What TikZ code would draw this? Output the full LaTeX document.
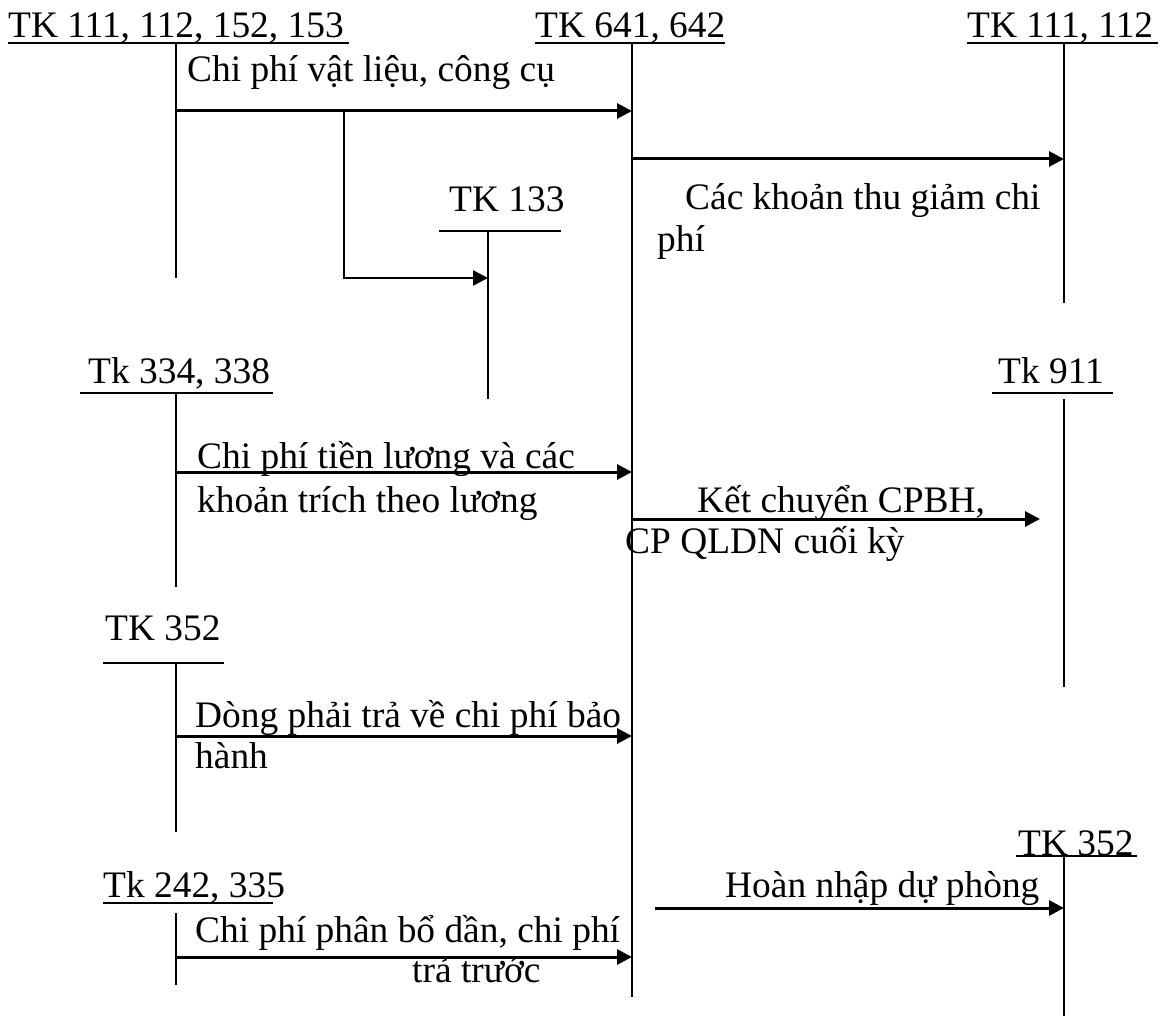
\documentclass[tikz,border=0pt]{standalone}
\usepackage{fontspec}
\setmainfont{Liberation Serif}
\usetikzlibrary{arrows.meta}
\begin{document}
\begin{tikzpicture}[x=1pt,y=-1pt,
  txt/.style={anchor=base west,inner sep=0pt,font=\fontsize{37.4}{44}\selectfont},
  acc/.style={line width=2pt},
  uline/.style={line width=2pt},
  flow/.style={line width=3pt,-{Triangle[length=15pt,width=15pt]}}]
\useasboundingbox (0,0) rectangle (1165,1019);
% ---- account headings
\node[txt] (h1) at (8,38) {TK 111, 112, 152, 153};
\node[txt] (h2) at (535,38) {TK 641, 642};
\node[txt] (h3) at (967,38) {TK 111, 112};
\node[txt] (h133) at (449,212) {TK 133};
\node[txt] (h334) at (88,383) {Tk 334, 338};
\node[txt] (h911) at (998,383) {Tk 911};
\node[txt] (h352a) at (105,640) {TK 352};
\node[txt] (h242) at (103,897) {Tk 242, 335};
\node[txt] (h352b) at (1018,855) {TK 352};
% ---- heading lines
\draw[uline] (8,43) -- (349,43);
\draw[uline] (535,43) -- (725,43);
\draw[uline] (967,43) -- (1158,43);
\draw[uline] (439,231) -- (561,231);
\draw[uline] (80,393) -- (273,393);
\draw[uline] (992,393) -- (1113,393);
\draw[uline] (103,663) -- (224,663);
\draw[uline] (103,903) -- (273,903);
\draw[uline] (1016,856) -- (1137,856);
% ---- account verticals
\coordinate (v1t) at (176,43);   \coordinate (v1b) at (176,278);
\coordinate (v2t) at (632,43);   \coordinate (v2b) at (632,997);
\coordinate (v3t) at (1064,43);  \coordinate (v3b) at (1064,303);
\coordinate (v4t) at (488,231);  \coordinate (v4b) at (488,399);
\coordinate (v5t) at (176,393);  \coordinate (v5b) at (176,587);
\coordinate (v6t) at (1064,399); \coordinate (v6b) at (1064,687);
\coordinate (v7t) at (176,663);  \coordinate (v7b) at (176,832);
\coordinate (v8t) at (176,913);  \coordinate (v8b) at (176,985);
\coordinate (v9t) at (1064,856); \coordinate (v9b) at (1064,1016);
\foreach \v in {v1,v2,v3,v4,v5,v6,v7,v8,v9} \draw[acc] (\v t) -- (\v b);
% ---- flows
\coordinate (a1s) at (176,111); \coordinate (a1e) at (632,111);
\draw[flow] (a1s) -- (a1e);
\node[txt] (l1) at (187,82) {Chi phí vật liệu, công cụ};
\coordinate (b1) at (344,111); \coordinate (b2) at (344,278); \coordinate (b3) at (488,278);
\draw[flow,line width=2.5pt] (b1) -- (b2) -- (b3);
\coordinate (a2s) at (632,159); \coordinate (a2e) at (1064,159);
\draw[flow] (a2s) -- (a2e);
\node[txt] (l2a) at (685,210) {Các khoản thu giảm chi};
\node[txt] (l2b) at (657,252) {phí};
\coordinate (a3s) at (176,472); \coordinate (a3e) at (632,472);
\draw[flow] (a3s) -- (a3e);
\node[txt] (l3a) at (197,468) {Chi phí tiền lương và các};
\node[txt] (l3b) at (197,512) {khoản trích theo lương};
\coordinate (a4s) at (632,519); \coordinate (a4e) at (1040,519);
\draw[flow] (a4s) -- (a4e);
\node[txt] (l4a) at (697,512) {Kết chuyển CPBH,};
\node[txt] (l4b) at (625,553) {CP QLDN cuối kỳ};
\coordinate (a5s) at (176,736); \coordinate (a5e) at (632,736);
\draw[flow] (a5s) -- (a5e);
\node[txt] (l5a) at (195,727) {Dòng phải trả về chi phí bảo};
\node[txt] (l5b) at (195,768) {hành};
\coordinate (a6s) at (655,908); \coordinate (a6e) at (1064,908);
\draw[flow] (a6s) -- (a6e);
\node[txt] (l6) at (725,897) {Hoàn nhập dự phòng};
\coordinate (a7s) at (176,957); \coordinate (a7e) at (632,957);
\draw[flow] (a7s) -- (a7e);
\node[txt] (l7a) at (195,942) {Chi phí phân bổ dần, chi phí};
\node[txt] (l7b) at (412,982) {trả trước};
\end{tikzpicture}
\end{document}
